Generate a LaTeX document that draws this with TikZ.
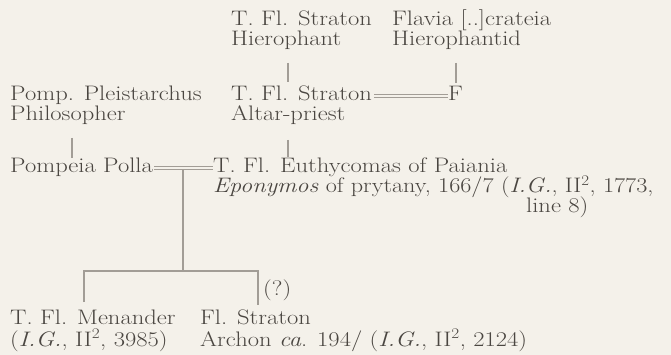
\documentclass[tikz,border=0pt]{standalone}
\usepackage{fontspec}
\setmainfont{Latin Modern Roman}[FakeStretch=1.17]
\usetikzlibrary{calc}
\definecolor{bg}{HTML}{F4F1EA}
\definecolor{ink}{HTML}{4A4641}
\definecolor{rulec}{HTML}{A29D96}
\begin{document}
\begin{tikzpicture}[x=1pt,y=-1pt,
  txt/.style={anchor=base west, inner sep=0pt, text=ink, font=\fontsize{21}{20}\selectfont},
  link/.style={draw=rulec, line width=1.2pt},
  mline/.style={draw=rulec, line width=0.9pt}]
\fill[bg] (0,0) rectangle (671,355);
\useasboundingbox (0,0) rectangle (671,355);
% people
\node[txt] (s1)  at (231,26) {T. Fl. Straton};
\node[txt] (s1r) at (231,46) {Hierophant};
\node[txt] (fl)  at (392,26) {Flavia [..]crateia};
\node[txt] (flr) at (392,46) {Hierophantid};
\node[txt] (pp)  at (10,101) {Pomp. Pleistarchus};
\node[txt] (ppr) at (10,121) {Philosopher};
\node[txt] (s2)  at (231,101) {T. Fl. Straton};
\node[txt] (s2r) at (231,121) {Altar-priest};
\node[txt] (f)   at (448,101) {F};
\node[txt] (pol) at (10,173) {Pompeia Polla};
\node[txt] (eu)  at (213,173) {T. Fl. Euthycomas of Paiania};
\node[txt] (eur) at (213,193) {\scalebox{0.985}[1]{\textit{Eponymos} of prytany, 166/7 (\textit{I.G.}, II\textsuperscript{2}, 1773,}};
\node[txt] (eur2) at (526,213) {line 8)};
\node[txt] (me)  at (10,324) {T. Fl. Menander};
\node[txt] (mer) at (10,346) {(\textit{I.G.}, II\textsuperscript{2}, 3985)};
\node[txt] (st)  at (200,324) {Fl. Straton};
\node[txt] (str) at (200,346) {Archon \textit{ca}. 194/ (\textit{I.G.}, II\textsuperscript{2}, 2124)};
\node[txt] (q)   at (263,295) {(?)};
% x positions of vertical links
\coordinate (xa) at (288,0);
\coordinate (xb) at (456,0);
\coordinate (xc) at (72,0);
\coordinate (xk) at (183,0);
\coordinate (xl) at (84,0);
\coordinate (xr) at (258,0);
% descent lines
\draw[link] ([yshift=-17pt]s1r.base -| xa) -- ([yshift=-36pt]s1r.base -| xa);
\draw[link] ([yshift=-17pt]flr.base -| xb) -- ([yshift=-37pt]flr.base -| xb);
\draw[link] ([yshift=-17pt]ppr.base -| xc) -- ([yshift=-37pt]ppr.base -| xc);
\draw[link] ([yshift=-19pt]s2r.base -| xa) -- ([yshift=-36pt]s2r.base -| xa);
% marriages (double lines)
\foreach \d in {3.2pt,6.2pt}{
  \draw[mline] ([xshift=2pt,yshift=\d]s2.base east) -- ([yshift=\d]f.base west);
  \draw[mline] ([xshift=1pt,yshift=\d]pol.base east) -- ([yshift=\d]eu.base west);
}
% children
\coordinate (kid) at ([yshift=3.2pt]pol.base -| xk);
\coordinate (bar) at (183,271);
\draw[link] (kid) -- (bar);
\draw[link] ([yshift=7pt]me.north -| xl) |- (bar) -| ([yshift=4pt]st.north -| xr);
\end{tikzpicture}
\end{document}
